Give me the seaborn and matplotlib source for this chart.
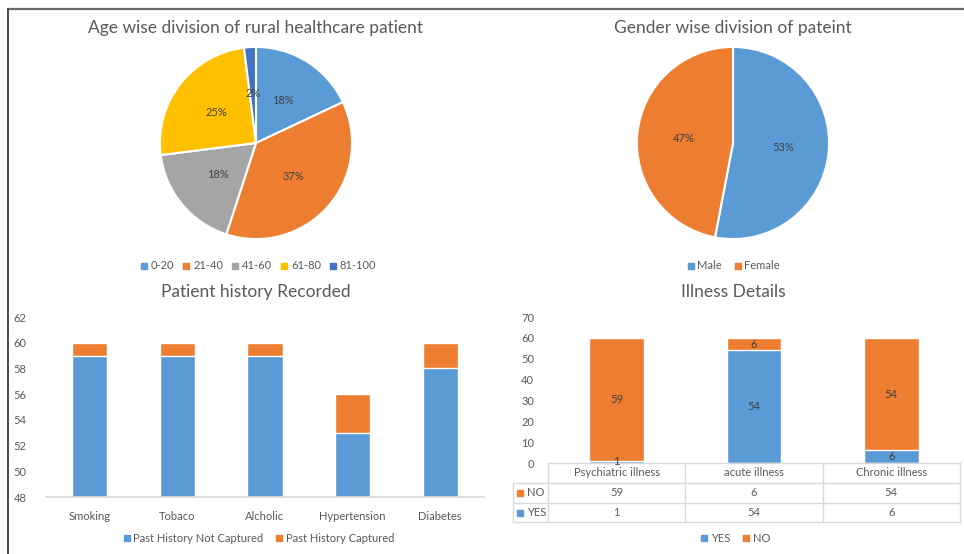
import matplotlib
matplotlib.use("Agg")
import matplotlib.pyplot as plt
from matplotlib.lines import Line2D
import seaborn as sns
import pandas as pd

# ---------------- data ----------------
age_groups = ["0-20", "21-40", "41-60", "61-80", "81-100"]
age_pct = [18, 37, 18, 25, 2]

genders = ["Male", "Female"]
gender_pct = [53, 47]

history_cats = ["Smoking", "Tobaco", "Alcholic", "Hypertension", "Diabetes"]
history_not_captured = [59, 59, 59, 53, 58]
history_captured = [1, 1, 1, 3, 2]

illness_cats = ["Psychiatric illness", "acute illness", "Chronic illness"]
illness_yes = [1, 54, 6]
illness_no = [59, 6, 54]

# ---------------- style ----------------
sns.set_theme(style="white")
plt.rcParams["font.family"] = ["Lato", "DejaVu Sans"]
TXT = "#595959"
BLUE, ORANGE, GRAY, YELLOW, DBLUE = "#5B9BD5", "#ED7D31", "#A5A5A5", "#FFC000", "#4472C4"

W, H = 964, 554
fig = plt.figure(figsize=(W / 100, H / 100), dpi=100)
fig.patch.set_facecolor("white")


def fx(x):
    return x / W


def fy(y):
    return 1 - y / H


def add_axes_px(x0, y0, x1, y1):
    return fig.add_axes([fx(x0), fy(y1), fx(x1) - fx(x0), (y1 - y0) / H])


def legend_px(labels, colors, x, y, colsp=1.0):
    handles = [Line2D([], [], marker="s", linestyle="", color=c, markersize=5) for c in colors]
    fig.legend(handles, labels, loc="center", bbox_to_anchor=(fx(x), fy(y)), ncol=len(labels),
               frameon=False, fontsize=8, labelcolor=TXT, handletextpad=0.2,
               columnspacing=colsp, handlelength=0.8)


def pct_fmt(p):
    return f"{int(round(p))}%"


# frame lines
fig.add_artist(Line2D([fx(8), 1], [fy(8.5), fy(8.5)], color="#6b6b6b", lw=1.6))
fig.add_artist(Line2D([fx(8), fx(8)], [fy(8.5), 0], color="#4a4a4a", lw=1.4))

# ---------------- pie 1 ----------------
ax1 = add_axes_px(159, 46, 353, 240)
ax1.pie(age_pct, colors=[BLUE, ORANGE, GRAY, YELLOW, DBLUE], startangle=90, counterclock=False,
        autopct=pct_fmt, pctdistance=0.52,
        wedgeprops=dict(edgecolor="white", linewidth=1.5),
        textprops=dict(color="#404040", fontsize=8))
ax1.set_aspect("equal")
ax1.set_xlim(-1.01, 1.01)
ax1.set_ylim(-1.01, 1.01)
fig.text(fx(256), fy(28), "Age wise division of rural healthcare patient", ha="center", va="center",
         fontsize=12.5, color=TXT)
legend_px(age_groups, [BLUE, ORANGE, GRAY, YELLOW, DBLUE], 258, 266, colsp=0.7)

# ---------------- pie 2 ----------------
ax2 = add_axes_px(636, 46, 830, 240)
ax2.pie(gender_pct, colors=[BLUE, ORANGE], startangle=90, counterclock=False,
        autopct=pct_fmt, pctdistance=0.52,
        wedgeprops=dict(edgecolor="white", linewidth=1.5),
        textprops=dict(color="#404040", fontsize=8))
ax2.set_aspect("equal")
ax2.set_xlim(-1.01, 1.01)
ax2.set_ylim(-1.01, 1.01)
fig.text(fx(733), fy(28), "Gender wise division of pateint", ha="center", va="center",
         fontsize=12.5, color=TXT)
legend_px(genders, [BLUE, ORANGE], 733, 266)

# ---------------- bar 1 ----------------
ax3 = add_axes_px(46, 317, 484, 497)
df_hist = pd.DataFrame({"cat": history_cats,
                        "not_cap": history_not_captured,
                        "cap": history_captured})
df_hist["total"] = df_hist["not_cap"] + df_hist["cap"]
sns.barplot(data=df_hist, x="cat", y="total", color=ORANGE, saturation=1, width=0.4, ax=ax3)
sns.barplot(data=df_hist, x="cat", y="not_cap", color=BLUE, saturation=1, width=0.4, ax=ax3)
ax3.set_ylim(48, 62)
ax3.set_yticks(range(48, 63, 2))
ax3.set_xlim(-0.5, len(history_cats) - 0.5)
ax3.set_xlabel("")
ax3.set_ylabel("")
for s in ["top", "right", "left"]:
    ax3.spines[s].set_visible(False)
ax3.spines["bottom"].set_color("#D9D9D9")
ax3.tick_params(axis="both", length=0, labelsize=8, colors=TXT, pad=10)
ax3.tick_params(axis="y", pad=14)
fig.text(fx(256), fy(292), "Patient history Recorded", ha="center", va="center",
         fontsize=12.5, color=TXT)
legend_px(["Past History Not Captured", "Past History Captured"], [BLUE, ORANGE], 258, 538)

# ---------------- bar 2 with data table ----------------
ax4 = add_axes_px(548, 317, 960, 463)
df_ill = pd.DataFrame({"cat": illness_cats, "yes": illness_yes, "no": illness_no})
df_ill["total"] = df_ill["yes"] + df_ill["no"]
sns.barplot(data=df_ill, x="cat", y="total", color=ORANGE, saturation=1, width=0.4, ax=ax4)
sns.barplot(data=df_ill, x="cat", y="yes", color=BLUE, saturation=1, width=0.4, ax=ax4)
ax4.set_ylim(0, 70)
ax4.set_yticks(range(0, 71, 10))
ax4.set_xlim(-0.5, len(illness_cats) - 0.5)
ax4.set_xlabel("")
ax4.set_ylabel("")
ax4.set_xticks([])
for s in ax4.spines.values():
    s.set_visible(False)
ax4.tick_params(axis="y", length=0, labelsize=8, colors=TXT, pad=10)
for i, (y, n) in enumerate(zip(illness_yes, illness_no)):
    ax4.text(i, y / 2, str(y), ha="center", va="center", fontsize=8, color="#404040")
    ax4.text(i, y + n / 2, str(n), ha="center", va="center", fontsize=8, color="#404040")

# table drawn in axes coordinates
ah = 463 - 317
aw = 960 - 548
r_head = -20 / ah
r_no = -40 / ah
r_yes = -59 / ah
lab_left = (513 - 548) / aw
lc = "#D9D9D9"
tr = ax4.transAxes
kw = dict(transform=tr, color=lc, lw=1, clip_on=False)
ax4.plot([0, 1], [0, 0], **kw)
for yy in (r_head, r_no, r_yes):
    ax4.plot([lab_left, 1], [yy, yy], **kw)
for xx in (0, 1 / 3, 2 / 3, 1):
    ax4.plot([xx, xx], [0, r_yes], **kw)
ax4.plot([lab_left, lab_left], [r_head, r_yes], **kw)
n_cat = len(illness_cats)
for i, c in enumerate(illness_cats):
    xc = (i + 0.5) / n_cat
    ax4.text(xc, r_head / 2, c, transform=tr, ha="center", va="center", fontsize=8, color=TXT)
    ax4.text(xc, (r_head + r_no) / 2, str(illness_no[i]), transform=tr, ha="center", va="center",
             fontsize=8, color=TXT)
    ax4.text(xc, (r_no + r_yes) / 2, str(illness_yes[i]), transform=tr, ha="center", va="center",
             fontsize=8, color=TXT)
for label, col, y0, y1 in (("NO", ORANGE, r_head, r_no), ("YES", BLUE, r_no, r_yes)):
    ym = (y0 + y1) / 2
    ax4.plot([lab_left + 0.018], [ym], marker="s", markersize=4.5, color=col, transform=tr, clip_on=False)
    ax4.text(lab_left + 0.033, ym, label, transform=tr, ha="left", va="center", fontsize=8, color=TXT)

fig.text(fx(733), fy(292), "Illness Details", ha="center", va="center", fontsize=12.5, color=TXT)
legend_px(["YES", "NO"], [BLUE, ORANGE], 735, 538)

fig.savefig("out.png", dpi=100, facecolor="white")
